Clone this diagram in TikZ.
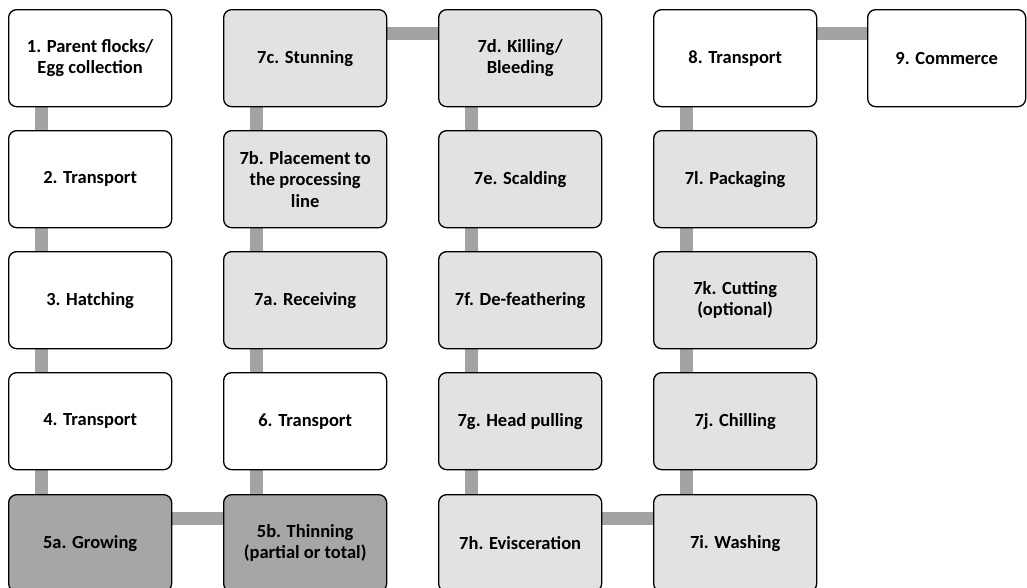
\documentclass[tikz,border=0pt]{standalone}
\usepackage{fontspec}
\setmainfont{Carlito}
\usetikzlibrary{backgrounds}

\definecolor{linkgray}{HTML}{A3A3A3}
\definecolor{lightfill}{HTML}{E2E2E2}
\definecolor{darkfill}{HTML}{A6A6A6}

\tikzset{
  stage/.style={draw=black, line width=1.3pt, rounded corners=8pt, fill=white,
    anchor=north west, minimum width=163pt, minimum height=97pt, inner sep=2pt,
    align=center, font=\fontsize{18.5}{21.5}\selectfont\bfseries},
  plant/.style={stage, fill=lightfill},
  farm/.style={stage, fill=darkfill},
  link/.style={draw=linkgray, line width=13pt}
}

\begin{document}
\begin{tikzpicture}[x=1pt, y=-1pt]

\useasboundingbox (0,0) rectangle (1027,587);
\clip (0,0) rectangle (1027,587);

% Column 1: farm side
\node[stage] (s1)  at (8,9)   {1. Parent flocks/\\Egg collection};
\node[stage] (s2)  at (8,130) {2. Transport};
\node[stage] (s3)  at (8,251) {3. Hatching};
\node[stage] (s4)  at (8,372) {4. Transport};
\node[farm]  (s5a) at (8,494) {5a. Growing};

% Column 2
\node[plant] (s7c) at (223,9)   {7c. Stunning};
\node[plant] (s7b) at (223,130) {7b. Placement to\\the processing\\line};
\node[plant] (s7a) at (223,251) {7a. Receiving};
\node[stage] (s6)  at (223,372) {6. Transport};
\node[farm]  (s5b) at (223,494) {5b. Thinning\\(partial or total)};

% Column 3
\node[plant] (s7d) at (438,9)   {7d. Killing/\\Bleeding};
\node[plant] (s7e) at (438,130) {7e. Scalding};
\node[plant] (s7f) at (438,251) {7f. De-feathering};
\node[plant] (s7g) at (438,372) {7g. Head pulling};
\node[plant] (s7h) at (438,494) {7h. Evisceration};

% Column 4
\node[stage] (s8)  at (653,9)   {8. Transport};
\node[plant] (s7l) at (653,130) {7l. Packaging};
\node[plant] (s7k) at (653,251) {7k. Cutting\\(optional)};
\node[plant] (s7j) at (653,372) {7j. Chilling};
\node[plant] (s7i) at (653,494) {7i. Washing};

% Column 5
\node[stage, minimum width=158pt] (s9) at (867,9) {9. Commerce};

% Draw the gray links behind the boxes
\begin{scope}[on background layer]
\foreach \a/\b in {s1/s2, s2/s3, s3/s4, s4/s5a, s5b/s6, s6/s7a, s7a/s7b, s7b/s7c,
                   s7d/s7e, s7e/s7f, s7f/s7g, s7g/s7h, s7i/s7j, s7j/s7k, s7k/s7l, s7l/s8}
  \draw[link] ([xshift=33pt]\a.south west) -- ([xshift=33pt]\b.south west |- \b.north);
\foreach \a/\b in {s5a/s5b, s7c/s7d, s7h/s7i, s8/s9}
  \draw[link] ([yshift=-24.5pt]\a.north east) -- ([yshift=-24.5pt]\b.north west);
\end{scope}

\end{tikzpicture}
\end{document}
